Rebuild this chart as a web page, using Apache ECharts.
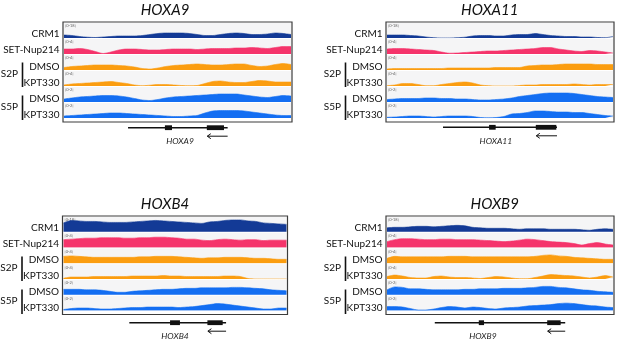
<!DOCTYPE html>
<html>
<head>
<meta charset="utf-8">
<script src="https://cdn.jsdelivr.net/npm/echarts@6/dist/echarts.min.js"></script>
<style>
html, body { margin: 0; padding: 0; background: #fff; }
#chart { width: 617px; height: 344px; }
</style>
</head>
<body>
<div id="chart"></div>
<script>
// genes shown, one panel each
const genes = ['HOXA9', 'HOXA11', 'HOXB4', 'HOXB9']
const trackNames = ['CRM1', 'SET-Nup214', 'DMSO', 'KPT330', 'DMSO', 'KPT330']
const groupNames = ['S2P', 'S5P']
const scaleLabels = ['[0-18]', '[0-4]', '[0-4]', '[0-4]', '[0-2]', '[0-2]']
const bins = Array.from({ length: 30 }, (_, i) => i)

// read coverage, 30 bins across the window
const hoxa9Crm1 = [3, 2.5, 1.5, 0.8, 0.5, 1, 1.5, 2, 2, 2, 2.5, 3.5, 4.5, 5, 5, 5, 4.5, 3.5, 2.5, 2.5, 3.5, 4.5, 5, 4.5, 3.5, 3.5, 4, 5, 4.5, 3.5]
const hoxa9Set = [5, 5, 5.5, 4.5, 2.5, 0.5, 2, 4, 5, 5, 4.5, 4, 4, 4.5, 5, 5, 5, 4.5, 5, 5.5, 5.5, 5.5, 6, 6, 6.5, 6, 5.5, 6.5, 7.5, 7.5]
const hoxa9S2pDmso = [2.5, 3.5, 4, 4.5, 5, 5, 5, 4.5, 4, 3, 1.5, 1, 2, 3.5, 4.5, 5, 5.5, 6, 5.5, 5, 5, 5.5, 6, 6, 4.5, 3.5, 4, 5.5, 6.5, 5.5]
const hoxa9S2pKpt = [1, 2, 2.5, 3, 3.5, 4, 4.5, 3.5, 2.5, 1, 0.3, 0.8, 1.5, 1.5, 1, 0.5, 0.3, 0.5, 2.5, 4.5, 5, 4, 3.5, 3.5, 4.5, 5.5, 5, 4, 4, 4]
const hoxa9S5pDmso = [3, 4, 5, 5.5, 6, 6.5, 6.5, 6, 5, 3.5, 2, 1.5, 2.5, 4, 5, 5.5, 6, 6.5, 7, 7.5, 8, 8, 8, 7, 6, 5, 4.5, 5.5, 6.5, 6]
const hoxa9S5pKpt = [2, 2.5, 3, 3.5, 4, 4.5, 5, 5, 4.5, 4, 3.5, 3, 2.5, 2, 1.5, 1.5, 2, 2.5, 5, 7, 7.5, 7.5, 7.5, 7, 6, 5, 4, 3, 2.5, 2.5]

const hoxa11Crm1 = [3, 3, 3, 2.5, 2, 1, 0.3, 0, 0, 0.3, 0.8, 2, 2.5, 2.5, 2, 2, 3, 3.5, 3.5, 4.5, 3.5, 2.5, 2, 1.5, 1.5, 1, 1, 0.5, 0.3, 1.5]
const hoxa11Set = [5, 5.5, 5.5, 5, 4.5, 4, 3.5, 2, 0.8, 1, 1.5, 2, 2.5, 3, 3, 3.5, 4, 4.5, 5, 5.5, 6.5, 6.5, 5, 4, 3, 2.5, 3.5, 3, 2, 1]
const hoxa11S2pDmso = [1, 1.5, 1.5, 1.5, 1.5, 1.5, 1.5, 1.5, 2, 2, 2, 2, 2, 2, 2.5, 2.5, 2.5, 2.5, 4, 4.5, 5, 5, 5.5, 6, 6, 6, 6, 5.5, 5.5, 5.5]
const hoxa11S2pKpt = [0.3, 1, 2.5, 2.5, 1.5, 0.3, 0.3, 1.5, 2.5, 3.5, 4, 3, 1, 0.3, 0, 0, 0, 0.5, 1, 1, 1.5, 1.5, 1.5, 1.5, 2, 1.5, 1, 1.5, 1.5, 1.5]
const hoxa11S5pDmso = [2.5, 3, 3.5, 3.5, 3.5, 4, 4, 3.5, 3.5, 3, 3, 2.5, 2, 2, 2.5, 3, 4, 5.5, 6.5, 7.5, 8.5, 9, 9, 9, 8.5, 7.5, 6.5, 5.5, 5, 4.5]
const hoxa11S5pKpt = [0.7, 1, 1.5, 2, 2, 1.5, 1, 1.5, 2, 2, 2, 1.5, 0.5, 0.2, 0.5, 1.5, 4, 4.5, 5.5, 7, 7, 6.5, 6, 6, 5.5, 5.5, 4.5, 3.5, 2.5, 2]

const hoxb4Crm1 = [9, 11.5, 11, 10.5, 10.5, 10, 9.5, 9.5, 9.5, 10, 10.5, 11, 11.5, 11, 10.5, 10, 9.5, 9, 8.5, 10, 10.5, 11.5, 12, 12, 11, 10.5, 9, 8.5, 8, 7.5]
const hoxb4Set = [8, 8.5, 9, 9.5, 9.5, 10, 10, 10, 9.5, 9.5, 10, 10, 10.5, 10.5, 10, 9.5, 8.5, 8.5, 7.5, 7, 8, 8.5, 8, 7.5, 8, 8, 7, 7.5, 7.5, 7.5]
const hoxb4S2pDmso = [7, 7.5, 7, 6.5, 6, 6, 6, 6, 6, 6, 6.5, 6.5, 7, 7, 7, 6.5, 6, 5.5, 5, 5.5, 5.5, 6, 6, 6, 5.5, 5, 5, 4.5, 4, 4]
const hoxb4S2pKpt = [0.7, 2, 2, 2, 2.5, 2.5, 2.5, 2.5, 2.5, 3, 3, 3, 3, 3.5, 3, 3, 2.5, 2.5, 2.5, 2.5, 2.5, 3, 3, 2.5, 0.5, 0, 0, 0, 0, 0]
const hoxb4S5pDmso = [5.5, 5.5, 5.5, 5, 5, 4.5, 3.5, 2.5, 2.5, 3.5, 4, 4.5, 5, 5.5, 5.5, 6, 6.5, 6.5, 7, 7, 7, 7, 7.5, 7.5, 7, 6.5, 6, 5, 4.5, 4]
const hoxb4S5pKpt = [1, 2, 2.5, 2.5, 2, 1.5, 1.5, 2, 2.5, 3, 3, 3.5, 3.5, 3.5, 3.5, 3, 3.5, 4, 5, 6, 7, 6.5, 5.5, 4.5, 3.5, 2.5, 1.5, 1.5, 2.5, 2.5]

const hoxb9Crm1 = [4, 4.5, 4.5, 5, 5.5, 5.5, 5, 5.5, 6, 6.5, 6, 4.5, 4, 3.5, 3.5, 3.5, 3, 2.5, 3, 3, 3, 2.5, 2.5, 2.5, 2.5, 2, 1.5, 2.5, 3, 2.5]
const hoxb9Set = [6, 8, 9, 9, 8.5, 8, 8, 8.5, 8.5, 8, 8, 8, 7.5, 7, 6.5, 6, 6.5, 7.5, 8.5, 8, 7, 6, 5.5, 5, 4, 2.5, 4, 5, 3.5, 2.5]
const hoxb9S2pDmso = [5, 7, 6.5, 6.5, 6.5, 6.5, 6.5, 6.5, 7, 7, 7, 6.5, 6.5, 6.5, 6.5, 6.5, 6.5, 6.5, 6.5, 7, 8, 8.5, 7.5, 7, 6, 5.5, 5, 4.5, 4, 4]
const hoxb9S2pKpt = [2.5, 4, 3, 1.5, 1, 1, 2.5, 3, 2, 1.5, 1.5, 1, 0.5, 1.5, 2.5, 2, 1, 0.3, 0.3, 1.5, 3, 4.5, 4, 3.5, 3, 2, 1, 2, 3.5, 2]
const hoxb9S5pDmso = [5, 8, 7.5, 6, 6, 5.5, 5, 5, 5, 5, 5.5, 5.5, 6, 6, 6, 6.5, 6.5, 6.5, 7, 7.5, 8.5, 8.5, 7.5, 7, 6, 5, 4.5, 3.5, 3, 2.5]
const hoxb9S5pKpt = [4, 4, 3.5, 2, 0.5, 0.5, 1.5, 3, 4, 3.5, 2.5, 3.5, 3, 2, 1.5, 2.5, 3, 3.5, 4.5, 5, 5.5, 6, 7, 7.5, 7, 6, 5, 4.5, 3.5, 3]

// gene models, % of window: transcript span, exons, label centre
const geneSpans = [[28.4, 71.9], [25.0, 75.0], [29.7, 72.7], [21.4, 78.6]]
const geneExons = [
  [[44.5, 47.6], [62.8, 70.3]],
  [[45.2, 48.1], [65.7, 74.7]],
  [[47.8, 52.2], [64.4, 71.2]],
  [[40.7, 43.0], [70.7, 76.6]]
]
const geneLabelPos = [51.1, 48.2, 50, 42.5]

const tracks = [
  [hoxa9Crm1, hoxa9Set, hoxa9S2pDmso, hoxa9S2pKpt, hoxa9S5pDmso, hoxa9S5pKpt],
  [hoxa11Crm1, hoxa11Set, hoxa11S2pDmso, hoxa11S2pKpt, hoxa11S5pDmso, hoxa11S5pKpt],
  [hoxb4Crm1, hoxb4Set, hoxb4S2pDmso, hoxb4S2pKpt, hoxb4S5pDmso, hoxb4S5pKpt],
  [hoxb9Crm1, hoxb9Set, hoxb9S2pDmso, hoxb9S2pKpt, hoxb9S5pDmso, hoxb9S5pKpt]
]

const colors = ['#133a96', '#f5346b', '#fb9d10', '#fb9d10', '#136ef2', '#136ef2']
const FONT = 'Lato, "Open Sans", sans-serif'

const boxes = [
  { l: 63, r: 292, t: 22, b: 122, tx: 165, ty: 10, gy: 127.7 },
  { l: 386, r: 614, t: 22, b: 122, tx: 489.7, ty: 10, gy: 127.3 },
  { l: 62.5, r: 287.5, t: 216, b: 314.5, tx: 165, ty: 204, gy: 322.7 },
  { l: 386, r: 614, t: 216, b: 314.5, tx: 494.7, ty: 204.5, gy: 322.7 }
]

const chart = echarts.init(document.getElementById('chart'))

const grid = []
const xAxis = []
const yAxis = []
const series = []
const graphic = []

genes.forEach((gene, p) => {
  const b = boxes[p]
  const w = b.r - b.l
  const pitch = (b.b - b.t - 4) / 6

  tracks[p].forEach((vals, t) => {
    const gi = grid.length
    const top = b.t + 1 + t * pitch
    grid.push({
      left: b.l + 1, width: w - 2, top: top, height: pitch - 1,
      show: true, backgroundColor: '#f5f5f6', borderWidth: 0
    })
    xAxis.push({ type: 'category', gridIndex: gi, data: bins, boundaryGap: false, show: false })
    yAxis.push({ type: 'value', gridIndex: gi, min: 0, max: 15, show: false })
    series.push({
      type: 'line', xAxisIndex: gi, yAxisIndex: gi, data: vals,
      smooth: 0.25, symbol: 'none', silent: true, animation: false,
      lineStyle: { width: 0.6, color: colors[t] },
      areaStyle: { color: colors[t], opacity: 1 }
    })
    // scale range
    graphic.push({
      type: 'text', x: b.l + 2, y: top + 1, silent: true,
      style: { text: scaleLabels[t], font: '4px ' + FONT, fill: '#666' }
    })
    // track name
    graphic.push({
      type: 'text', x: b.l - 3.5, y: b.t + 12 + t * (pitch + 0.2), silent: true,
      style: { text: trackNames[t], font: '10px ' + FONT, fill: '#111', align: 'right', verticalAlign: 'middle' }
    })
  })

  // S2P / S5P brackets
  groupNames.forEach((g, k) => {
    const y1 = b.t + 40.5 + k * 33
    graphic.push({
      type: 'line', silent: true,
      shape: { x1: b.l - 40.5, y1: y1, x2: b.l - 40.5, y2: y1 + 24.5 },
      style: { stroke: '#111', lineWidth: 1.6 }
    })
    graphic.push({
      type: 'text', x: b.l - 45, y: y1 + 11.5, silent: true,
      style: { text: g, font: '10px ' + FONT, fill: '#111', align: 'right', verticalAlign: 'middle' }
    })
  })

  // frame
  graphic.push({
    type: 'rect', silent: true, z: 100,
    shape: { x: b.l, y: b.t, width: w, height: b.b - b.t },
    style: { fill: null, stroke: '#3c3c3c', lineWidth: 1.2 }
  })

  // title
  graphic.push({
    type: 'text', x: b.tx, y: b.ty, silent: true,
    style: { text: gene, font: 'italic 15px ' + FONT, fill: '#111', align: 'center', verticalAlign: 'middle' }
  })

  // gene model drawn on its own grid
  const gi = grid.length
  grid.push({ left: b.l, width: w, top: b.gy - 6, height: 20 })
  xAxis.push({ type: 'value', gridIndex: gi, min: 0, max: 100, show: false })
  yAxis.push({ type: 'value', gridIndex: gi, min: 0, max: 1, show: false })
  series.push({
    type: 'custom', xAxisIndex: gi, yAxisIndex: gi, silent: true, animation: false,
    data: [[geneSpans[p][0], 0]],
    renderItem: (params, api) => {
      const cs = params.coordSys
      const X = v => api.coord([v, 0])[0]
      const ly = cs.y + 6
      const ay = ly + 8.5
      const ex = geneExons[p]
      const a1 = X(ex[1][0]) + 0.5
      const a2 = X(geneSpans[p][1])
      return {
        type: 'group',
        children: [
          { type: 'line', shape: { x1: X(geneSpans[p][0]), y1: ly, x2: a2, y2: ly }, style: { stroke: '#111', lineWidth: 1.5 } },
          ...ex.map(e => ({
            type: 'rect', shape: { x: X(e[0]), y: ly - 2.4, width: X(e[1]) - X(e[0]), height: 4.8 }, style: { fill: '#111' }
          })),
          { type: 'line', shape: { x1: a1, y1: ay, x2: a2, y2: ay }, style: { stroke: '#111', lineWidth: 1 } },
          { type: 'polyline', shape: { points: [[a1 + 3.5, ay - 2.5], [a1, ay], [a1 + 3.5, ay + 2.5]] }, style: { stroke: '#111', lineWidth: 1, fill: null } },
          { type: 'text', x: X(geneLabelPos[p]), y: ly + 14, style: { text: gene, font: 'italic 8.5px ' + FONT, fill: '#222', align: 'center', verticalAlign: 'middle' } }
        ]
      }
    }
  })
})

chart.setOption({
  backgroundColor: '#fff',
  animation: false,
  grid,
  xAxis,
  yAxis,
  series,
  graphic: { elements: graphic }
})
</script>
</body>
</html>
